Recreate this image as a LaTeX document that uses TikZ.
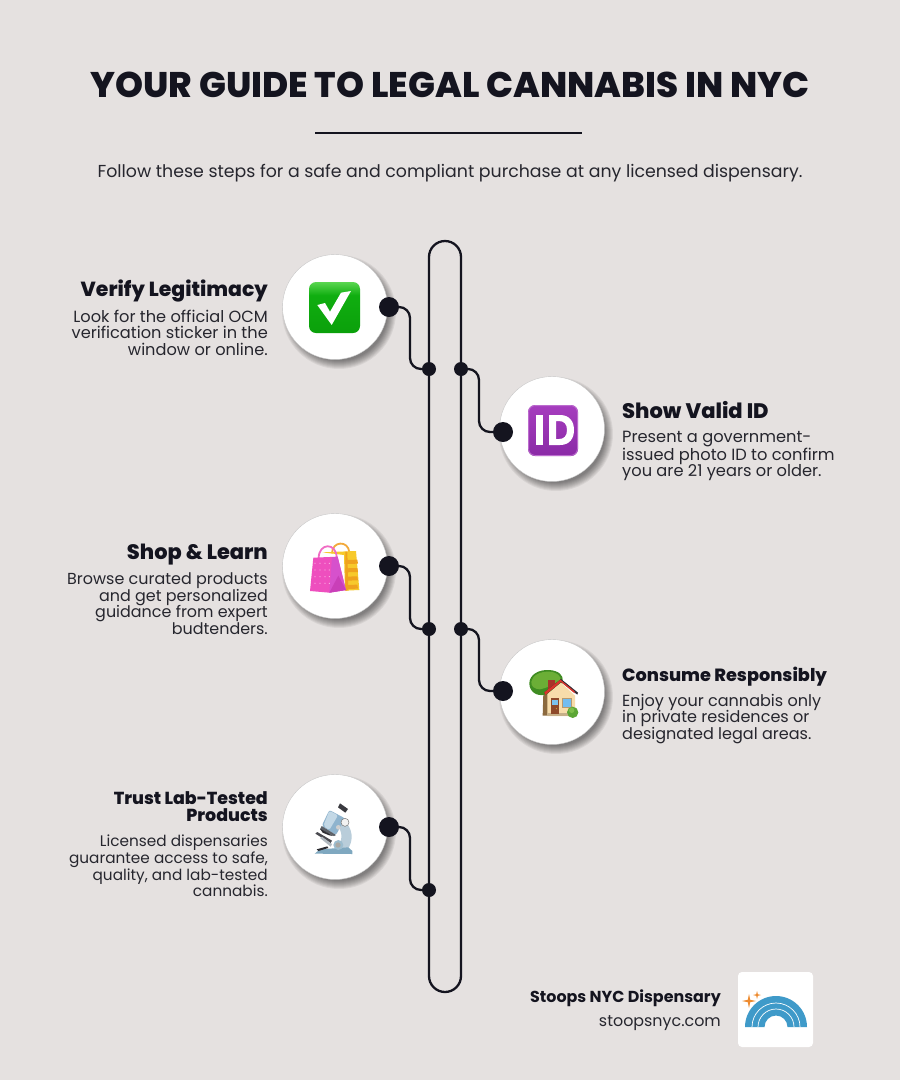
\documentclass[tikz,border=0pt]{standalone}
\usepackage{fontspec}
\setmainfont{Poppins}
\newfontfamily\hd{Poppins ExtraBold}
\usetikzlibrary{calc}
\definecolor{bgc}{HTML}{E5E1E0}
\definecolor{ink}{HTML}{14141F}
\definecolor{bodyc}{HTML}{26262E}
\definecolor{ga}{HTML}{5AD650}\definecolor{gb}{HTML}{10AE10}\definecolor{gc}{HTML}{0BA00B}
\pgfdeclareverticalshading{glossgreen}{100bp}{color(0bp)=(gc); color(25bp)=(gc); color(62bp)=(gb); color(75bp)=(ga); color(100bp)=(ga)}
\tikzset{
 HTML/.code={\definecolor{tmpc}{HTML}{#1}\pgfkeysalso{/tikz/color=tmpc}},
 disc/.style={circle,fill=white,draw=black!22,line width=.4pt,minimum size=105,inner sep=0},
 bigdot/.style={circle,fill=ink,minimum size=20,inner sep=0},
 smalldot/.style={circle,fill=ink,minimum size=14,inner sep=0},
 wire/.style={draw=ink,line width=2.3,rounded corners=11},
 lefthead/.style={anchor=east,align=right,font=\hd\fontsize{#1}{17}\selectfont,text=ink,inner sep=0},
 leftbody/.style={anchor=east,align=right,font=\fontsize{#1}{16.6}\selectfont,text=bodyc,inner sep=0},
 righthead/.style={anchor=west,align=left,font=\hd\fontsize{#1}{17}\selectfont,text=ink,inner sep=0},
 rightbody/.style={anchor=west,align=left,font=\fontsize{#1}{16.6}\selectfont,text=bodyc,inner sep=0},
}
\newcommand{\softshadow}[2]{%
 \foreach \rr in {57,56,55,54,53,52,51,50,49}{\fill[black,opacity=.06] (#1+4,#2+5) circle (\rr);}}
\begin{document}
\begin{tikzpicture}[x=1pt,y=-1pt]
\useasboundingbox (0,0) rectangle (900,1080);
\fill[bgc] (0,0) rectangle (900,1080);
% title
\node[font=\hd\fontsize{35.6}{40}\selectfont,text=ink,inner sep=0] (title) at (450,84.5) {YOUR GUIDE TO LEGAL CANNABIS IN NYC};
\coordinate (ruleA) at (315,132.5); \coordinate (ruleB) at (582,132.5);
\draw[ink,line width=2] (ruleA) -- (ruleB);
\node[font=\fontsize{17.35}{20}\selectfont,text=bodyc,inner sep=0] (sub) at (450,173) {Follow these steps for a safe and compliant purchase at any licensed dispensary.};
% pill
\draw[ink,line width=2.3] (429,257) arc (180:0:16 and -16) -- (461,976) arc (0:-180:16 and -16) -- cycle;
% shadows
\softshadow{335}{307}\softshadow{552}{429}\softshadow{335}{566}\softshadow{552}{692}\softshadow{335}{827}
% discs
\node[disc] (c1) at (335,307) {};
\node[disc] (c2) at (552,429) {};
\node[disc] (c3) at (335,566) {};
\node[disc] (c4) at (552,692) {};
\node[disc] (c5) at (335,827) {};
% dots
\node[smalldot] (s1) at (429,369) {};
\node[smalldot] (s2) at (461,369) {};
\node[smalldot] (s3) at (429,629) {};
\node[smalldot] (s4) at (461,629) {};
\node[smalldot] (s5) at (429,890) {};
\node[bigdot] (d1) at (389,307) {};
\node[bigdot] (d2) at (503,432) {};
\node[bigdot] (d3) at (389,566) {};
\node[bigdot] (d4) at (503,691) {};
\node[bigdot] (d5) at (389,827) {};
\coordinate (b1) at (410,340);
\coordinate (b2) at (479,400);
\coordinate (b3) at (410,600);
\coordinate (b4) at (479,660);
\coordinate (b5) at (410,860);
\draw[wire] (d1.center) -| (b1) |- (s1.center);
\draw[wire] (s2.center) -| (b2) |- (d2.center);
\draw[wire] (d3.center) -| (b3) |- (s3.center);
\draw[wire] (s4.center) -| (b4) |- (d4.center);
\draw[wire] (d5.center) -| (b5) |- (s5.center);
% texts
\node[lefthead=20.4] (h1) at (268,291) {Verify Legitimacy};
\node[leftbody=16.2] (t1) at (268,332.5) {Look for the official OCM\\verification sticker in the\\window or online.};
\node[righthead=21] (h2) at (622,410) {Show Valid ID};
\node[rightbody=16.25] (t2) at (622,456) {Present a government-\\issued photo ID to confirm\\you are 21 years or older.};
\node[lefthead=20.9] (h3) at (268,555) {Shop \& Learn};
\node[leftbody=15.95] (t3) at (268,603.5) {Browse curated products\\and get personalized\\guidance from expert\\budtenders.};
\node[righthead=17.7] (h4) at (622,677) {Consume Responsibly};
\node[rightbody=16.05] (t4) at (622,719) {Enjoy your cannabis only\\in private residences or\\designated legal areas.};
\node[lefthead=17.4] (h5) at (268,806.5) {Trust Lab-Tested\\Products};
\node[leftbody=15.3] (t5) at (268,866) {Licensed dispensaries\\guarantee access to safe,\\quality, and lab-tested\\cannabis.};
% footer
\node[anchor=east,font=\bfseries\fontsize{15.9}{18}\selectfont,text=ink,inner sep=0] (f1) at (721,998) {Stoops NYC Dispensary};
\node[anchor=east,font=\fontsize{15.9}{18}\selectfont,text=bodyc,inner sep=0] (f2) at (721,1023) {stoopsnyc.com};
% logo
\fill[white,rounded corners=4] (738,972) rectangle (813,1047);
\fill[HTML=3F9AC9] (745,1027) arc (180:0:31 and -31) -- (787.5,1027) arc (0:180:11.5 and -11.5) -- cycle;
\draw[white,line width=.7] (752,1027) arc (180:0:24 and -24);
\draw[white,line width=.7] (758,1027) arc (180:0:18 and -18);
\fill[HTML=EE8B2F] (749,994) -- (750.2,999.8) -- (756,1001) -- (750.2,1002.2) -- (749,1008) -- (747.8,1002.2) -- (742,1001) -- (747.8,999.8) -- cycle;
\fill[HTML=EE8B2F] (757,991) -- (757.8,994.2) -- (761,995) -- (757.8,995.8) -- (757,999) -- (756.2,995.8) -- (753,995) -- (756.2,994.2) -- cycle;
% emoji check
\shade[shading=glossgreen,rounded corners=7] (309,282) rectangle (360,333);
\fill[white] (317.3,305) -- (325,303) -- (330,311.7) -- (341,292.7) -- (351,291) -- (331.7,325) -- cycle;
% emoji ID
\definecolor{pa}{HTML}{A63DBE}\definecolor{pb}{HTML}{8A2AA6}
\shade[top color=pa,bottom color=pb,rounded corners=7] (528,405) rectangle (578,456);
\draw[HTML=BC6CCE,line width=.8,rounded corners=6.5] (528.6,405.6) rectangle (577.4,455.4);
\fill[white] (536,415) rectangle (543,445);
\fill[white,even odd rule] (549,415) -- (560,415) .. controls (570,415) and (574,422) .. (574,430) .. controls (574,438) and (570,445) .. (560,445) -- (549,445) -- cycle
 (556,421) -- (556,439) -- (559,439) .. controls (564,439) and (567,436) .. (567,430) .. controls (567,424) and (564,421) .. (559,421) -- cycle;
% emoji bags
\begin{scope}[shift={(270,505)},scale=1/3]
\draw[HTML=F2A93B,line width=1.8] (186,145) .. controls (186,108) and (235,105) .. (238,142);
\fill[HTML=F7C92B] (157,142) -- (258,138) -- (268,255) -- (225,257) -- (222,150) -- cycle;
\foreach \yy in {165,190,215,240}{\fill[HTML=EFA21E] (226,\yy) -- (262,\yy-1) -- (264,\yy+11) -- (226,\yy+12) -- cycle;}
\fill[HTML=EFA21E] (226,140) -- (232,140) -- (235,256) -- (226,257) -- cycle;
\draw[HTML=F06CC4,line width=1.8] (146,160) .. controls (146,112) and (200,112) .. (200,158);
\fill[HTML=EE4FBE] (130,158) -- (203,155) -- (228,255) -- (178,263) -- (120,258) -- cycle;
\fill[HTML=D651CC] (186,157) -- (203,155) -- (228,255) -- (178,263) -- cycle;
\fill[HTML=C93FB8] (205,212) -- (228,255) -- (178,263) -- cycle;
\foreach \xx in {135,150,165,178}{\foreach \yy in {175,195,215,235}{\fill[HTML=FAB4E4] (\xx,\yy) circle (1.8);}}
\end{scope}
% emoji house
\begin{scope}[shift={(490,630)},scale=1/3]
\fill[HTML=8C6A3F] (160,190) -- (178,190) -- (174,257) -- (158,257) -- cycle;
\fill[HTML=3F8C22] (118,160) .. controls (118,135) and (145,118) .. (178,120) .. controls (205,122) and (222,135) .. (218,155) .. controls (215,170) and (190,190) .. (165,194) .. controls (140,200) and (118,185) .. (118,160) -- cycle;
\fill[HTML=6BAE36] (124,155) .. controls (128,135) and (150,124) .. (178,125) .. controls (200,126) and (214,138) .. (212,152) .. controls (190,165) and (175,172) .. (150,178) .. controls (135,178) and (122,170) .. (124,155) -- cycle;
\fill[HTML=A8342A] (174,150) rectangle (195,178);
\fill[HTML=F7DCAA] (172,192) -- (213,158) -- (255,197) -- (255,258) -- (172,258) -- cycle;
\fill[HTML=C7B089] (172,250) rectangle (255,258);
\fill[HTML=2E2A33] (163,187) -- (213,147) -- (264,188) -- (262,194) -- (213,156) -- (166,195) -- cycle;
\fill[HTML=D9342B] (163,187) -- (211,149) -- (254,184) -- (254,190) -- (213,156) -- (166,195) -- cycle;
\fill[HTML=8E4A2A] (182,204) rectangle (207,253);
\fill[HTML=7CC3EE] (186,209) rectangle (203,226);
\fill[HTML=B89A6E] (216,203) rectangle (247,234);
\fill[HTML=72BDF0] (219,206) rectangle (244,230);
\fill[HTML=F2C230] (199,236) circle (1.5);
\fill[HTML=5CA635] (248,247) circle (17);
\fill[HTML=7DBE4A] (245,241) circle (8);
\end{scope}
% emoji microscope
\begin{scope}[shift={(270,770)},scale=1/3]
\fill[HTML=B9CDDA] (218,150) .. controls (250,170) and (252,215) .. (232,238) -- (190,238) .. controls (215,225) and (222,195) .. (205,170) -- cycle;
\fill[HTML=7FA8C0] (134,251) -- (150,238) -- (235,232) -- (247,243) -- (247,252) -- cycle;
\fill[HTML=9DBDCF] (205,225) circle (15);
\fill[HTML=A9A9A6] (204,225) circle (8);
\fill[HTML=4A4A50] (136,191) -- (142,186) -- (186,212) -- (182,219) -- cycle;
\fill[HTML=B0B8BE] (150,204) -- (156,200) -- (186,222) -- (182,230) -- cycle;
\fill[HTML=2B2B30] (140,238) -- (172,229) -- (175,234) -- (145,243) -- cycle;
\fill[HTML=3A3A3F] (210,100) -- (234,117) -- (226,128) -- (204,112) -- cycle;
\fill[HTML=8FB4CE,rounded corners=2] (178,120) -- (225,145) -- (198,195) -- (155,168) -- cycle;
\fill[HTML=C3D8E6,rounded corners=2] (178,122) -- (204,136) -- (178,180) -- (160,168) -- cycle;
\fill[HTML=5C6168] (155,168) -- (198,195) -- (192,198) -- (150,178) -- cycle;
\fill[HTML=2E2E33] (150,176) -- (190,198) -- (178,196) -- (158,188) -- cycle;
\fill[HTML=F2F2F2] (225,157) circle (12);
\fill[HTML=CFCFCF] (205,172) circle (7);
\draw[HTML=777777,line width=.5] (225,157) circle (12);
\end{scope}
\end{tikzpicture}
\end{document}
